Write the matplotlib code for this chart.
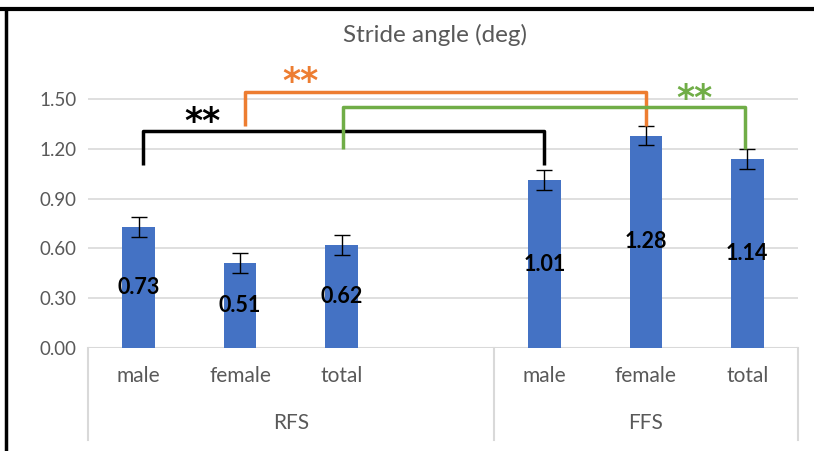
import matplotlib
matplotlib.use("Agg")
import matplotlib.pyplot as plt
from matplotlib.transforms import blended_transform_factory
from matplotlib.lines import Line2D

# ---- data ----
groups = ["RFS", "FFS"]
categories = ["male", "female", "total", "male", "female", "total"]
slots = [0, 1, 2, 4, 5, 6]          # RFS has an empty 4th slot
values = [0.73, 0.51, 0.62, 1.01, 1.28, 1.14]
errors = [0.06, 0.06, 0.06, 0.06, 0.06, 0.06]
yticks = [0.0, 0.3, 0.6, 0.9, 1.2, 1.5]
title = "Stride angle (deg)"

# brackets: (x_left, y_left_bottom, x_right, y_right_bottom, y_top, color, star_x, star_y)
brackets = [
    (0.04, 1.10, 4.0, 1.10, 1.31, "black", 0.63, 1.36),
    (1.05, 1.34, 5.0, 1.34, 1.54, "#ED7D31", 1.59, 1.60),
    (2.01, 1.20, 5.98, 1.20, 1.45, "#70AD47", 5.48, 1.50),
]

FONT = ["Lato", "DejaVu Sans"]
plt.rcParams["font.family"] = FONT

fig = plt.figure(figsize=(8.14, 4.51), dpi=100)
ax = fig.add_axes([88/814, 1-348/451, 710/814, 1.75*166/451])
ax.set_xlim(-0.5, 6.5)
ax.set_ylim(0, 1.75)

for y in yticks[1:]:
    ax.axhline(y, color="#D9D9D9", lw=1.2, zorder=0)

ax.bar(slots, values, width=0.32, color="#4472C4", zorder=2)
ax.errorbar(slots, values, yerr=errors, fmt="none", ecolor="black",
            elinewidth=1, capsize=6, capthick=1, zorder=3)

for s, v in zip(slots, values):
    ax.text(s, v/2, f"{v:.2f}", ha="center", va="center", fontsize=15.5,
            fontweight="bold", color="black", zorder=4)

for xl, yl, xr, yr, yt, c, sx, sy in brackets:
    ax.plot([xl, xl, xr, xr], [yl, yt, yt, yr], color=c, lw=2.5,
            solid_joinstyle="round", solid_capstyle="butt", zorder=5, clip_on=False)
    ax.text(sx, sy, "**", ha="center", va="center", fontsize=25,
            fontweight="bold", color=c, zorder=5, family=["DejaVu Sans"])

ax.set_yticks(yticks)
ax.set_yticklabels([f"{y:.2f}" for y in yticks], color="#595959", fontsize=13.5)
ax.tick_params(axis="y", length=0, pad=8)
ax.set_xticks([])
for sp in ax.spines.values():
    sp.set_visible(False)
ax.axhline(0, color="#D9D9D9", lw=1.5, zorder=1)

tr = blended_transform_factory(ax.transData, fig.transFigure)
for xv in [-0.5, 3.5, 6.5]:
    ax.add_line(Line2D([xv, xv], [1-348/451, 1-440/451], transform=tr,
                       color="#D9D9D9", lw=1.5, clip_on=False))
for s, c in zip(slots, categories):
    ax.text(s, 1-376/451, c, transform=tr, ha="center", va="center",
            fontsize=15, color="#595959")
ax.text(1.5, 1-423/451, groups[0], transform=tr, ha="center", va="center",
        fontsize=15, color="#595959")
ax.text(5.0, 1-423/451, groups[1], transform=tr, ha="center", va="center",
        fontsize=15, color="#595959")

fig.text(435/814, 1-35/451, title, ha="center", va="center", fontsize=17.5,
         color="#595959")

# outer frame (top and left edges)
fig.add_artist(Line2D([0, 1], [1-9/451, 1-9/451], transform=fig.transFigure,
                      color="black", lw=3))
fig.add_artist(Line2D([6/814, 6/814], [0, 1-9/451], transform=fig.transFigure,
                      color="black", lw=2.5))

fig.savefig("out.png", dpi=100)
